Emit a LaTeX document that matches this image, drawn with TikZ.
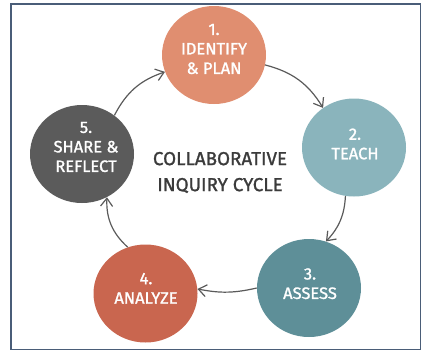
\documentclass[tikz,border=0pt]{standalone}
\usepackage{fontspec}
\setmainfont{Fira Sans}
\newfontfamily\medfont{Fira Sans}[FakeBold=1.3]
\usetikzlibrary{shapes.geometric,arrows.meta}
\definecolor{cone}{HTML}{E08E70}
\definecolor{ctwo}{HTML}{8AB4BC}
\definecolor{cthree}{HTML}{5E8F98}
\definecolor{cfour}{HTML}{C9664F}
\definecolor{cfive}{HTML}{5B5B5B}
\definecolor{framecol}{HTML}{4A5D78}
\definecolor{titlecol}{HTML}{3B3B3B}
\definecolor{arrowgray}{HTML}{5A5A5A}
\tikzset{
  stage/.style={ellipse, minimum width=104pt, minimum height=98pt, inner sep=0pt, draw=none},
  lbl/.style={text=white, align=center, inner sep=0pt, font=\medfont\fontsize{16.5}{19.5}\selectfont},
  ttl/.style={text=titlecol, align=center, inner sep=0pt, font=\medfont\fontsize{18.8}{26}\selectfont},
  arr/.style={draw=arrowgray, line width=1.2pt, -{Straight Barb[length=8pt,width=12pt]}},
  framebox/.style={draw=framecol, line width=1.6pt}
}
\begin{document}
\begin{tikzpicture}[x=1pt,y=1pt]
\useasboundingbox (0,0) rectangle (423,-354);
\draw[framebox] (11,-4) rectangle (420.5,-349.5);
\node[stage, fill=cone]   (c1) at (214,-55) {};
\node[stage, fill=ctwo]   (c2) at (354,-147.5) {};
\node[stage, fill=cthree] (c3) at (309,-288) {};
\node[stage, fill=cfour]  (c4) at (145.5,-293.5) {};
\node[stage, fill=cfive]  (c5) at (82,-154) {};
\node[lbl] (t1) at (214,-49) {1.\\IDENTIFY\\\&\ PLAN};
\node[lbl] (t2) at (355,-144) {2.\\TEACH};
\node[lbl] (t3) at (310,-283.7) {3.\\ASSESS};
\node[lbl] (t4) at (146,-288.3) {4.\\ANALYZE};
\node[lbl] (t5) at (86,-147) {5.\\SHARE \&\\REFLECT};
\node[ttl] (title) at (220,-172.5) {COLLABORATIVE\\INQUIRY CYCLE};
\draw[arr] (c1.-11) to[bend left=22] (c2.128);
\draw[arr] (c2.-100) to[bend left=20] (c3.70);
\draw[arr] (c3.180) to[bend left=12] (c4.5);
\draw[arr] (c4.111) to[bend left=25] (c5.-60);
\draw[arr] (c5.50) to[bend left=22] (c1.199);
\end{tikzpicture}
\end{document}
